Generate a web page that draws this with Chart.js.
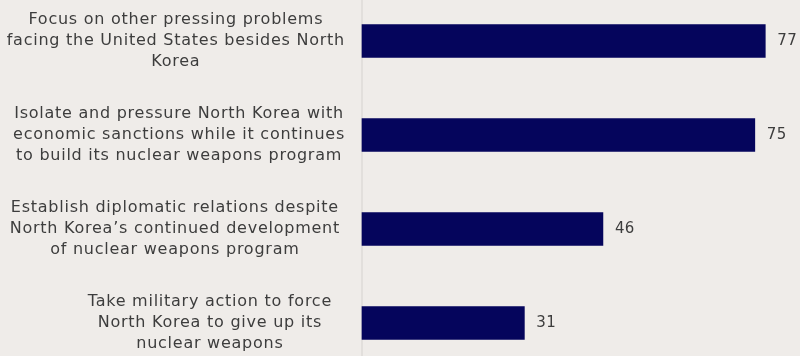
<!DOCTYPE html>
<html>
<head>
<meta charset="utf-8">
<script src="https://cdn.jsdelivr.net/npm/chart.js@4/dist/chart.umd.min.js"></script>
<style>
html,body{margin:0;padding:0;background:#efece9;}
#wrap{width:800px;height:356px;position:relative;}
</style>
</head>
<body>
<div id="wrap"><canvas id="c" width="800" height="356"></canvas></div>
<script>
const categories = [
  ["Focus on other pressing problems", "facing the United States besides North", "Korea"],
  ["Isolate and pressure North Korea with", "economic sanctions while it continues", "to build its nuclear weapons program"],
  ["Establish diplomatic relations despite", "North Korea\u2019s continued development", "of nuclear weapons program"],
  ["Take military action to force", "North Korea to give up its", "nuclear weapons"]
];
const values = [77, 75, 46, 31];

// style: gap between each label block's right edge and the axis line
const labelGaps = [17, 17, 22, 30];

const categoryLabels = {
  id: 'categoryLabels',
  afterDraw(chart) {
    const ctx = chart.ctx;
    const yScale = chart.scales.y;
    const axisX = chart.scales.x.getPixelForValue(0);
    ctx.save();
    ctx.letterSpacing = '0.75px';
    ctx.font = '16px "DejaVu Sans"';
    ctx.fillStyle = '#3d3d3d';
    ctx.textAlign = 'center';
    ctx.textBaseline = 'middle';
    const lh = 21;
    chart.data.labels.forEach((lines, i) => {
      const y = yScale.getPixelForTick(i);
      let widest = 0;
      lines.forEach(l => { widest = Math.max(widest, ctx.measureText(l).width); });
      const cx = axisX - labelGaps[i] - widest / 2;
      lines.forEach((l, j) => {
        ctx.fillText(l, cx, y + (j - (lines.length - 1) / 2) * lh);
      });
    });
    ctx.restore();
  }
};

const valueLabels = {
  id: 'valueLabels',
  afterDatasetsDraw(chart) {
    const ctx = chart.ctx;
    const meta = chart.getDatasetMeta(0);
    ctx.save();
    ctx.letterSpacing = '0.3px';
    ctx.font = '15px "DejaVu Sans"';
    ctx.fillStyle = '#3d3d3d';
    ctx.textAlign = 'left';
    ctx.textBaseline = 'middle';
    meta.data.forEach((bar, i) => {
      ctx.fillText(String(values[i]), bar.x + 12, bar.y);
    });
    ctx.restore();
  }
};

new Chart(document.getElementById('c'), {
  type: 'bar',
  data: {
    labels: categories,
    datasets: [{
      data: values,
      backgroundColor: '#05055c',
      borderWidth: 0,
      barThickness: 33,
      clip: false
    }]
  },
  options: {
    indexAxis: 'y',
    responsive: false,
    animation: false,
    layout: { padding: { top: 41, bottom: 33, left: 0, right: 19 } },
    plugins: { legend: { display: false }, tooltip: { enabled: false } },
    scales: {
      x: {
        display: false,
        min: 0,
        max: 80
      },
      y: {
        offset: false,
        grid: { display: false, drawTicks: false },
        border: { display: false },
        afterFit(scale) {
          scale.width = 362;
          scale.paddingTop = 0;
          scale.paddingBottom = 0;
        },
        ticks: { display: false }
      }
    }
  },
  plugins: [categoryLabels, valueLabels, {
    id: 'axisLine',
    beforeDatasetsDraw(chart) {
      const ctx = chart.ctx;
      ctx.save();
      ctx.strokeStyle = '#e2dfdc';
      ctx.lineWidth = 2;
      const x = chart.scales.x.getPixelForValue(0);
      ctx.beginPath();
      ctx.moveTo(x, 0);
      ctx.lineTo(x, chart.height);
      ctx.stroke();
      ctx.restore();
    }
  }]
});
</script>
</body>
</html>
